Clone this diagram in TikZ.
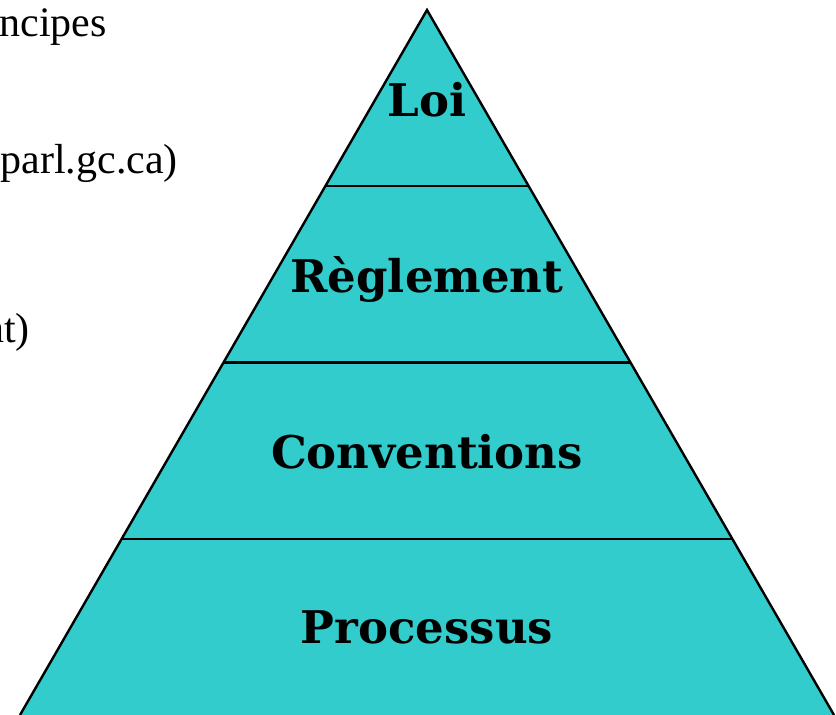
\documentclass[tikz,border=0pt]{standalone}
\usepackage{fontspec}
\setmainfont{Liberation Serif}
\newfontfamily\tierfont{DejaVu Serif}
\usetikzlibrary{calc}
\definecolor{pyramidfill}{HTML}{33CCCC}
\tikzset{
    tier/.style={font=\tierfont\bfseries\fontsize{45}{54}\selectfont, anchor=base},
    note/.style={font=\fontsize{42}{50}\selectfont, anchor=base east, inner sep=0pt}
}
\begin{document}
\begin{tikzpicture}[x=1pt,y=-1pt]
    \useasboundingbox (0,0) rectangle (836,715);
    \clip (0,0) rectangle (836,715);
    \coordinate (apex) at (427,10);
    \coordinate (baseL) at (20,715);
    \coordinate (baseR) at (834,715);
    \fill[pyramidfill] (apex) -- (baseL) -- (baseR) -- cycle;
    \draw[line width=2.4pt] (baseL) -- (apex) -- (baseR);
    \foreach \f in {0.25,0.5,0.75}
        \draw[line width=2.4pt] ($(apex)!\f!(baseL)$) -- ($(apex)!\f!(baseR)$);
    \node[tier] (loi) at (427,116) {Loi};
    \node[tier] (reglement) at (427,292) {Règlement};
    \node[tier] (conventions) at (427,468) {Conventions};
    \node[tier] (processus) at (427,643) {Processus};
    \node[note] (principes) at (107,36) {ncipes};
    \node[note] (site) at (178,173) {parl.gc.ca)};
    \node[note] (fin) at (30,342) {nt)};
\end{tikzpicture}
\end{document}
